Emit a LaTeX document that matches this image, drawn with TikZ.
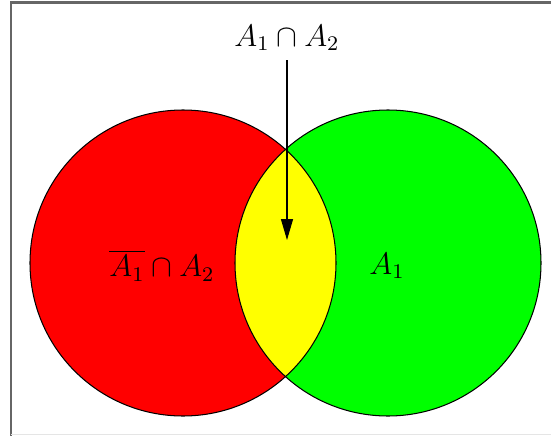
\documentclass[tikz,border=0pt]{standalone}
\usepackage{tikz}
\usetikzlibrary{arrows.meta}
\definecolor{setred}{HTML}{FF0000}
\definecolor{setgreen}{HTML}{00FF00}
\definecolor{setyellow}{HTML}{FFFF00}
\definecolor{framegray}{HTML}{666666}

\begin{document}
\begin{tikzpicture}[
  x=0.385pt, y=-0.385pt,
  font=\large,
  setline/.style={draw=black, thin},
  frameline/.style={draw=framegray, line width=0.8pt},
  >={Triangle[length=8pt, width=4.6pt]}
]
\useasboundingbox (0,0) rectangle (551,436);

% ---- frame ----
\draw[frameline] (11,436) -- (11,2.5) -- (551,2.5);
\draw[black!10, line width=0.6pt] (11,434.5) -- (551,434.5);

% ---- sets ----
\coordinate (cl) at (183,263);
\coordinate (cr) at (388,263);
\fill[setred] (cl) circle[radius=153];
\fill[setgreen] (cr) circle[radius=153];
\begin{scope}
  \clip (cl) circle[radius=153];
  \fill[setyellow] (cr) circle[radius=153];
\end{scope}
\draw[setline] (cl) circle[radius=153];
\draw[setline] (cr) circle[radius=153];

% ---- labels ----
\node (inter) at (287,38) {$A_1\cap A_2$};
\node (left) at (162,266) {$\overline{A_1}\cap A_2$};
\node (right) at (387,266) {$A_1$};
\coordinate (start) at (287,60);
\coordinate (lens) at (287,240);

\draw[->, thin] (start) -- (lens);

\end{tikzpicture}
\end{document}
